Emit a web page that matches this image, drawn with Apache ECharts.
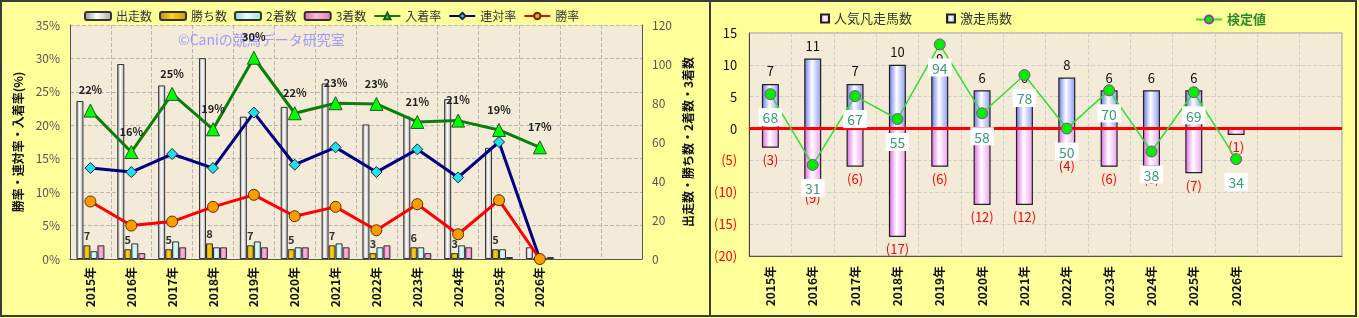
<!DOCTYPE html>
<html><head><meta charset="utf-8">
<script src="https://cdn.jsdelivr.net/npm/echarts@6/dist/echarts.min.js"></script>
<style>
html,body{margin:0;padding:0;background:#FFFF99;width:1359px;height:318px;overflow:hidden;}
.panel{position:absolute;top:0;height:317px;box-sizing:border-box;border:2px solid #3a3a3a;background:#FFFF99;}
.chart{position:absolute;left:0;top:0;right:0;bottom:0;}
</style></head>
<body>
<div class="panel" style="left:0;width:711px;"><div id="c1" class="chart"></div></div>
<div class="panel" style="left:709px;width:648px;"><div id="c2" class="chart"></div></div>
<script>
// ---- data ----
const years = ['2015年','2016年','2017年','2018年','2019年','2020年','2021年','2022年','2023年','2024年','2025年','2026年','',''];
const starts = [81,100,89,103,73,78,90,69,73,82,57,6];
const wins = [7,5,5,8,7,5,7,3,6,3,5,0];
const seconds = [4,8,9,6,9,6,8,6,6,7,5,0];
const thirds = [7,3,6,6,6,6,6,7,3,6,1,1];
const placeRate = [22.2,16.0,24.7,19.4,30.1,21.8,23.3,23.2,20.5,20.7,19.3,16.7];
const quinellaRate = [13.6,13.0,15.7,13.6,21.9,14.1,16.7,13.0,16.4,12.2,17.5,0];
const winRate = [8.6,5.0,5.6,7.8,9.6,6.4,7.8,4.3,8.2,3.7,8.8,0];
const gekisou = [7,11,7,10,9,6,6,8,6,6,6,0];
const ninkiBonsou = [-3,-9,-6,-17,-6,-12,-12,-4,-6,-6,-7,-1];
const kentei = [68,31,67,55,94,58,78,50,70,38,69,34];

const FONT = 'Noto Sans CJK JP';
const G = echarts.graphic.LinearGradient;
function hgrad(a,b,c){return new G(0,0,1,0,[{offset:0,color:a},{offset:0.45,color:b},{offset:1,color:c}]);}

const c1 = echarts.init(document.getElementById('c1'));
const barBase = {type:'bar', yAxisIndex:1, barWidth:7, barGap:'0%'};
c1.setOption({
  animation:false,
  textStyle:{fontFamily:FONT},
  legend:{left:82, top:8, padding:0, itemWidth:26, itemHeight:8, itemGap:7,
    textStyle:{fontSize:12,color:'#333',fontFamily:FONT},
    data:[{name:'出走数',icon:'roundRect'},{name:'勝ち数',icon:'roundRect'},{name:'2着数',icon:'roundRect'},{name:'3着数',icon:'roundRect'},'入着率','連対率','勝率']},
  grid:{left:68, top:23, width:572, height:234, show:true, backgroundColor:'#F3EAD8', borderWidth:0},
  graphic:[{type:'text', left:176, top:31, z:0, style:{text:'©Caniの競馬データ研究室', fill:'#9c9cff', font:'14px "Noto Sans CJK JP"'}}],
  xAxis:{type:'category', data:years, boundaryGap:true,
    axisLine:{lineStyle:{color:'#555',width:1}}, axisTick:{show:false},
    axisLabel:{rotate:90, interval:0, fontSize:12, color:'#111', fontWeight:'bold', margin:8},
    splitLine:{show:true, interval:0, lineStyle:{color:'#b8b8b8', type:'dashed'}}},
  yAxis:[
    {type:'value', min:0, max:35, interval:5, name:'勝率・連対率・入着率(%)', nameLocation:'middle', nameRotate:90, nameGap:39,
      nameTextStyle:{fontSize:12,color:'#111',fontWeight:'bold'},
      axisLine:{show:true,lineStyle:{color:'#555'}}, axisTick:{show:false},
      axisLabel:{formatter:'{value}%', fontSize:12, color:'#555', margin:10},
      splitLine:{lineStyle:{color:'#b8b8b8', type:'dashed'}}},
    {type:'value', min:0, max:120, interval:20, name:'出走数・勝ち数・2着数・3着数', nameLocation:'middle', nameRotate:90, nameGap:38,
      nameTextStyle:{fontSize:12,color:'#111',fontWeight:'bold'},
      axisLine:{show:true,lineStyle:{color:'#555'}}, axisTick:{show:false},
      axisLabel:{fontSize:12, color:'#555', margin:10}, splitLine:{show:false}}
  ],
  series:[
    Object.assign({name:'出走数', data:starts, itemStyle:{color:hgrad('#8e8e8e','#ffffff','#a8a8a8'), borderColor:'#333', borderWidth:1}}, barBase),
    Object.assign({name:'勝ち数', data:wins, itemStyle:{color:hgrad('#b88a00','#ffd21a','#c89600'), borderColor:'#333', borderWidth:1},
      label:{show:true, position:'top', distance:4, fontSize:11, color:'#333', fontWeight:'bold', formatter:p=>p.value?p.value:''}}, barBase),
    Object.assign({name:'2着数', data:seconds, itemStyle:{color:hgrad('#8ccfd8','#e6ffff','#9edbe2'), borderColor:'#333', borderWidth:1}}, barBase),
    Object.assign({name:'3着数', data:thirds, itemStyle:{color:hgrad('#d86aa8','#ffb6dc','#e07cb4'), borderColor:'#333', borderWidth:1}}, barBase),
    {name:'入着率', type:'line', yAxisIndex:0, data:placeRate, symbol:'triangle', symbolSize:13, z:5,
      lineStyle:{color:'#0a800a', width:3}, itemStyle:{color:'#00ff00', borderColor:'#225522', borderWidth:1},
      label:{show:true, position:'top', distance:8, fontSize:11, fontWeight:'bold', color:'#222', formatter:p=>Math.round(p.value)+'%'}},
    {name:'連対率', type:'line', yAxisIndex:0, data:quinellaRate, symbol:'diamond', symbolSize:11, z:5,
      lineStyle:{color:'#000080', width:3}, itemStyle:{color:'#22e0e8', borderColor:'#224', borderWidth:1}},
    {name:'勝率', type:'line', yAxisIndex:0, data:winRate, symbol:'circle', symbolSize:11, z:5,
      lineStyle:{color:'#ff0000', width:3}, itemStyle:{color:'#ff9a00', borderColor:'#553300', borderWidth:1}}
  ]
});

const c2 = echarts.init(document.getElementById('c2'));
c2.setOption({
  animation:false,
  textStyle:{fontFamily:FONT},
  legend:[
    {left:109, top:10, padding:0, itemWidth:8, itemHeight:8, itemGap:34, icon:'rect',
      textStyle:{fontSize:13,color:'#333',fontFamily:FONT}, data:['人気凡走馬数','激走馬数']},
    {left:484, top:11, padding:0, itemWidth:26, itemHeight:10, data:['検定値'],
      textStyle:{fontSize:13,color:'#2a8a2a',fontWeight:'bold',fontFamily:FONT}}
  ],
  grid:{left:36, top:31, width:595, height:223, show:true, backgroundColor:'#F3EAD8', borderColor:'#999', borderWidth:1},
  xAxis:{type:'category', data:years, boundaryGap:true,
    axisLine:{onZero:false, lineStyle:{color:'#555'}}, axisTick:{show:false},
    axisLabel:{rotate:90, interval:0, fontSize:12, color:'#111', fontWeight:'bold', margin:10},
    splitLine:{show:true, interval:0, lineStyle:{color:'#cfcfcf', type:'dashed'}}},
  yAxis:[
    {type:'value', min:-20, max:15, interval:5,
      axisLine:{show:true, lineStyle:{color:'#444'}}, axisTick:{show:false},
      axisLabel:{fontSize:13, margin:12, formatter:v=>v<0?'('+(-v)+')':String(v), color:v=>(v<0?'#ff0000':'#111')},
      splitLine:{lineStyle:{color:'#cfcfcf', type:'dashed'}}},
    {type:'value', min:-50/3, max:100, show:false, splitLine:{show:false}}
  ],
  series:[
    {name:'激走馬数', type:'bar', data:gekisou, barWidth:17, barGap:'-100%', z:2,
      itemStyle:{color:hgrad('#6272e6','#ffffff','#8a98f0'), borderColor:'#222', borderWidth:1.2},
      label:{show:true, position:'top', distance:6, fontSize:13, color:'#111', formatter:p=>p.value?p.value:''},
      markLine:{silent:true, symbol:'none', label:{show:false}, lineStyle:{color:'#ff0000', width:3, type:'solid'}, data:[{yAxis:0}]}},
    {name:'人気凡走馬数', type:'bar', data:ninkiBonsou, barWidth:17, barGap:'-100%', z:2,
      itemStyle:{color:hgrad('#e060e4','#ffffff','#ee9cf0'), borderColor:'#222', borderWidth:1.2},
      label:{show:true, position:'bottom', distance:6, fontSize:13, color:'#ff0000', formatter:p=>'('+(-p.value)+')'}},
    {name:'検定値', type:'line', yAxisIndex:1, data:kentei, symbol:'circle', symbolSize:11, z:6,
      lineStyle:{color:'#33dd33', width:1.5}, itemStyle:{color:'#00ee00', borderColor:'#9a3a9a', borderWidth:1},
      label:{show:true, position:'bottom', distance:8, fontSize:14, color:'#3a9a7a', backgroundColor:'#ffffff', padding:[3,4,1,4]}}
  ]
});
</script>
</body></html>
